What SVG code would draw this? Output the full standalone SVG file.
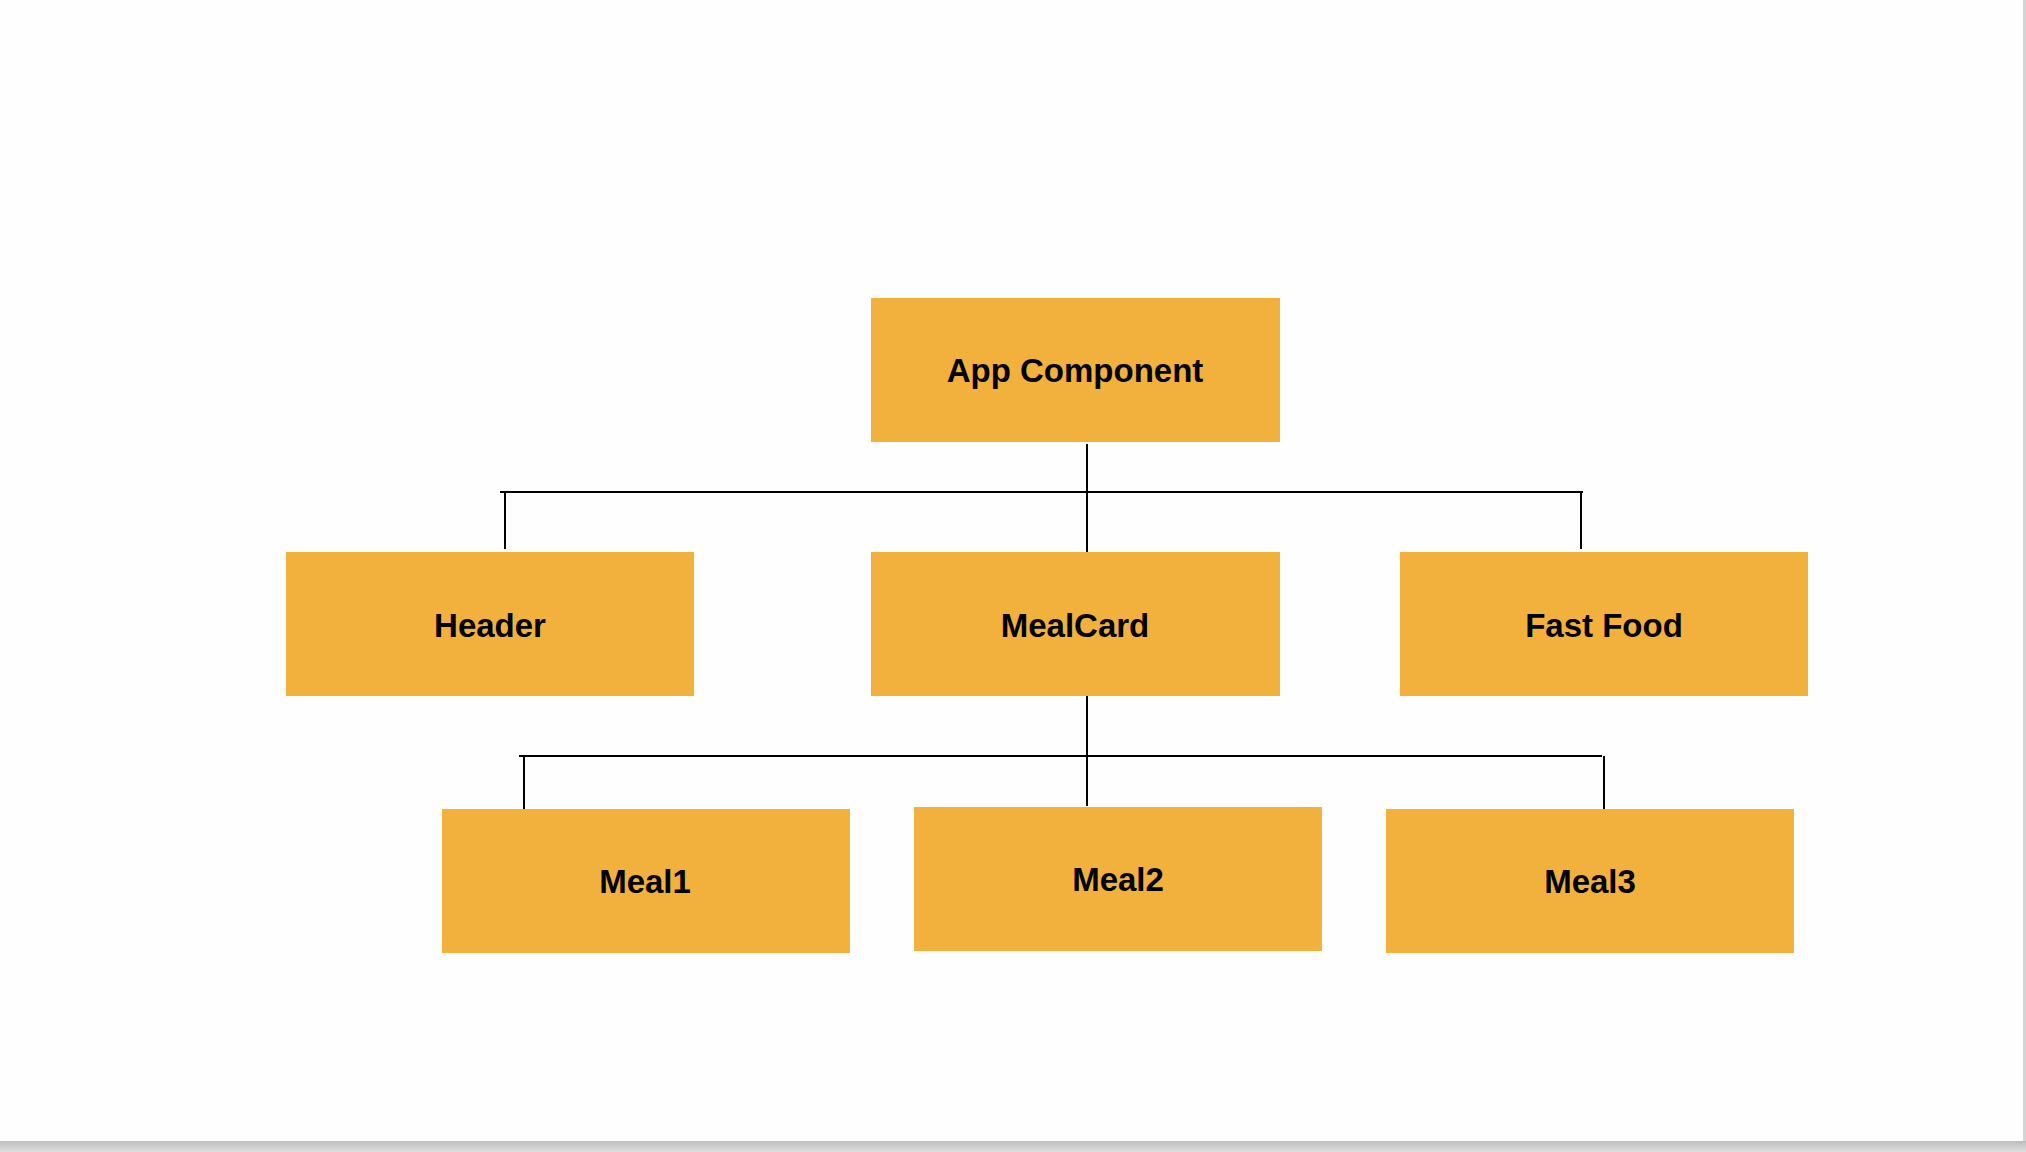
<svg xmlns="http://www.w3.org/2000/svg" width="2026" height="1152" viewBox="0 0 2026 1152">
<defs>
<linearGradient id="shadow" x1="0" y1="0" x2="0" y2="1">
<stop offset="0" stop-color="#bdbdbd"/>
<stop offset="1" stop-color="#dedede"/>
</linearGradient>
</defs>
<style>
.box{fill:#F2B13D}
.lbl{font-family:"Liberation Sans",Arial,sans-serif;font-weight:bold;font-size:33px;fill:#000;text-anchor:middle}
.conn line{stroke:#000;stroke-width:2}
</style>
<rect x="0" y="0" width="2026" height="1152" fill="#fefefe"/>
<rect x="2023" y="0" width="3" height="1141" fill="#d4d4d4"/>
<rect x="0" y="1141" width="2026" height="11" fill="url(#shadow)"/>
<g id="connectors" class="conn">
<line x1="1087" y1="444" x2="1087" y2="557"/>
<line x1="500" y1="492" x2="1583" y2="492"/>
<line x1="505" y1="492" x2="505" y2="549"/>
<line x1="1581" y1="492" x2="1581" y2="549"/>
<line x1="1087" y1="693" x2="1087" y2="806"/>
<line x1="519" y1="756" x2="1602" y2="756"/>
<line x1="524" y1="756" x2="524" y2="813"/>
<line x1="1604" y1="756" x2="1604" y2="813"/>
</g>
<g id="app">
<rect class="box" x="871" y="298" width="409" height="144"/>
<text class="lbl" x="1075" y="382">App Component</text>
</g>
<g id="header">
<rect class="box" x="286" y="552" width="408" height="144"/>
<text class="lbl" x="490" y="637">Header</text>
</g>
<g id="mealcard">
<rect class="box" x="871" y="552" width="409" height="144"/>
<text class="lbl" x="1075" y="637">MealCard</text>
</g>
<g id="fastfood">
<rect class="box" x="1400" y="552" width="408" height="144"/>
<text class="lbl" x="1604" y="637">Fast Food</text>
</g>
<g id="meal1">
<rect class="box" x="442" y="809" width="408" height="144"/>
<text class="lbl" x="645" y="893">Meal1</text>
</g>
<g id="meal2">
<rect class="box" x="914" y="807" width="408" height="144"/>
<text class="lbl" x="1118" y="891">Meal2</text>
</g>
<g id="meal3">
<rect class="box" x="1386" y="809" width="408" height="144"/>
<text class="lbl" x="1590" y="893">Meal3</text>
</g>
</svg>
